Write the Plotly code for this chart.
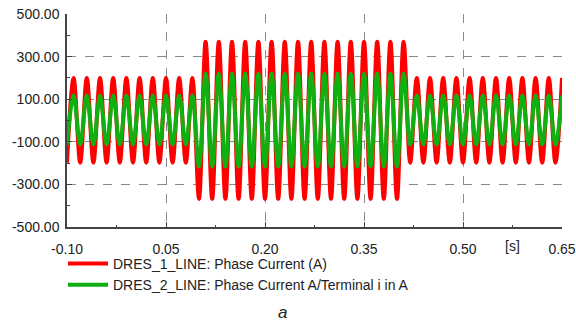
import plotly.graph_objects as go

# Sample times (s): one sample per half cycle (50 Hz) at each peak / trough
times = [-0.10, -0.09, -0.08, -0.07, -0.06, -0.05, -0.04, -0.03, -0.02, -0.01,
         0.00, 0.01, 0.02, 0.03, 0.04, 0.05, 0.06, 0.07, 0.08, 0.09,
         0.10, 0.11, 0.12, 0.13, 0.14, 0.15, 0.16, 0.17, 0.18, 0.19,
         0.20, 0.21, 0.22, 0.23, 0.24, 0.25, 0.26, 0.27, 0.28, 0.29,
         0.30, 0.31, 0.32, 0.33, 0.34, 0.35, 0.36, 0.37, 0.38, 0.39,
         0.40, 0.41, 0.42, 0.43, 0.44, 0.45, 0.46, 0.47, 0.48, 0.49,
         0.50, 0.51, 0.52, 0.53, 0.54, 0.55, 0.56, 0.57, 0.58, 0.59,
         0.60, 0.61, 0.62, 0.63, 0.64, 0.65]

# DRES_1_LINE phase current (A), peak/trough values
red_values = [-198, 200, -198, 200, -198, 200, -198, 200, -198, 200,
              -198, 200, -198, 200, -198, 200, -198, 200, -198, 200,
              -368, 370, -368, 370, -368, 370, -368, 370, -368, 370,
              -368, 370, -368, 370, -368, 370, -368, 370, -368, 370,
              -368, 370, -368, 370, -368, 370, -368, 370, -368, 370,
              -368, 370, -198, 200, -198, 200, -198, 200, -198, 200,
              -198, 200, -198, 200, -198, 200, -198, 200, -198, 200,
              -198, 200, -198, 200, -198, 200]

# DRES_2_LINE phase current A / terminal i (A)
green_values = [-113, 117, -113, 117, -113, 117, -113, 117, -113, 117,
                -113, 117, -113, 117, -113, 117, -113, 117, -113, 117,
                -216, 220, -216, 220, -216, 220, -216, 220, -216, 220,
                -216, 220, -216, 220, -216, 220, -216, 220, -216, 220,
                -216, 220, -216, 220, -216, 220, -216, 220, -216, 220,
                -216, 220, -113, 117, -113, 117, -113, 117, -113, 117,
                -113, 117, -113, 117, -113, 117, -113, 117, -113, 117,
                -113, 117, -113, 117, -113, 117]

x_tickvals = [-0.10, 0.05, 0.20, 0.35, 0.50, 0.65]
x_ticktext = ["-0.10", "0.05", "0.20", "0.35", "0.50", "0.65"]
y_tickvals = [-500, -300, -100, 100, 300, 500]
y_ticktext = ["-500.00", "-300.00", "-100.00", "100.00", "300.00", "500.00"]

FONT = "Liberation Sans, Arial, sans-serif"

# plot area in pixels
L, R, T, B = 67, 14, 14, 98
W, H = 576, 325
PW, PH = W - L - R, H - T - B


def px_x(px):
    return (px - L) / PW


def px_y(py):
    return (H - B - py) / PH


fig = go.Figure()
fig.add_trace(go.Scatter(x=times, y=red_values, mode="lines",
                         line=dict(color="#ff0000", width=4, shape="spline", smoothing=1.0),
                         name="DRES_1_LINE: Phase Current (A)"))
fig.add_trace(go.Scatter(x=times, y=green_values, mode="lines",
                         line=dict(color="#11b011", width=4, shape="spline", smoothing=1.0),
                         name="DRES_2_LINE: Phase Current A/Terminal i in A"))

grid = dict(showgrid=True, gridcolor="#8a8a8a", griddash="dash", gridwidth=1)

fig.update_xaxes(range=[-0.10, 0.65], tickvals=x_tickvals, ticktext=x_ticktext,
                 ticks="inside", ticklen=5, tickcolor="#444", tickwidth=1,
                 minor=dict(dtick=0.075, tick0=-0.10, ticks="inside", ticklen=2,
                            tickcolor="#444", showgrid=False),
                 showline=True, linecolor="#444", linewidth=1.5, zeroline=False,
                 tickfont=dict(family=FONT, size=14, color="#222"),
                 ticklabelstandoff=8, automargin=False, **grid)
fig.update_yaxes(range=[-500, 500], tickvals=y_tickvals, ticktext=y_ticktext,
                 ticks="inside", ticklen=5, tickcolor="#444", tickwidth=1,
                 minor=dict(dtick=100, tick0=-500, ticks="inside", ticklen=3,
                            tickcolor="#444", showgrid=False),
                 showline=True, linecolor="#444", linewidth=1.5, zeroline=False,
                 tickfont=dict(family=FONT, size=14, color="#222"),
                 ticklabelstandoff=3, automargin=False, **grid)

fig.add_annotation(x=0.575, y=0, xref="x", yref="paper", yanchor="top",
                   yshift=-9, text="[s]", showarrow=False,
                   font=dict(family=FONT, size=14, color="#222"))
fig.add_annotation(x=px_x(282), y=px_y(312), xref="paper", yref="paper",
                   xanchor="center", yanchor="middle",
                   text="<i>a</i>", showarrow=False,
                   font=dict(family=FONT, size=17, color="#222"))

fig.update_layout(
    width=W, height=H,
    margin=dict(l=L, r=R, t=T, b=B, autoexpand=False),
    paper_bgcolor="white", plot_bgcolor="white",
    showlegend=True,
    legend=dict(orientation="v", x=px_x(63), xanchor="left",
                y=px_y(248), yanchor="top",
                font=dict(family=FONT, size=14, color="#222"),
                itemwidth=40, tracegroupgap=0, bgcolor="rgba(0,0,0,0)"),
    font=dict(family=FONT),
)

fig.write_html("out.html", config={"displayModeBar": False},
               post_script="document.body.style.margin='0';")
